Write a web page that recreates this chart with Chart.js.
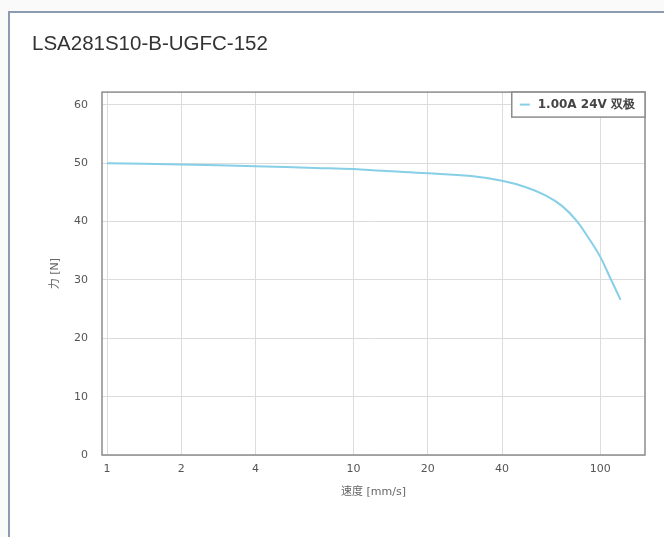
<!DOCTYPE html>
<html><head><meta charset="utf-8">
<script src="https://cdn.jsdelivr.net/npm/chart.js@4/dist/chart.umd.min.js"></script>
<style>
html,body{margin:0;padding:0;background:#fafafa;}
#wrap{position:relative;width:664px;height:537px;overflow:hidden;}
#card{position:absolute;left:8px;top:11px;width:700px;height:600px;background:#fff;border-left:2px solid #8c9bb0;border-top:2px solid #8c9bb0;}
canvas{position:absolute;left:0;top:0;}
</style></head><body>
<div id="wrap"><div id="card"></div><canvas id="c" width="664" height="537"></canvas></div>
<script>
const chartTitle = 'LSA281S10-B-UGFC-152';
const seriesLabel = '1.00A 24V 双极';
const xTitle = '速度 [mm/s]';
const yTitle = '力 [N]';
const speeds = [1, 2, 4, 7, 10, 13, 20, 30, 40, 50, 60, 70, 80, 90, 100, 110, 121];
const forces = [50.0, 49.8, 49.5, 49.2, 49.0, 48.7, 48.3, 47.8, 47.0, 45.9, 44.5, 42.7, 40.2, 37.1, 34.0, 30.3, 26.6];
const xTicks = [1, 2, 4, 10, 20, 40, 100];
const yTicks = [0, 10, 20, 30, 40, 50, 60];

const lineColor = '#86cfe6';
const frameColor = '#8c8c8c';

const framePlugin = {
  id: 'frameAndLegend',
  afterDraw(chart) {
    const {ctx, chartArea: a} = chart;
    ctx.save();
    ctx.strokeStyle = frameColor;
    ctx.lineWidth = 1.5;
    ctx.strokeRect(a.left, a.top, a.right - a.left, a.bottom - a.top);
    const ds = chart.data.datasets[0];
    ctx.font = 'bold 12px "DejaVu Sans"';
    const tw = ctx.measureText(ds.label).width;
    const padL = 8, sample = 10, gap = 8, padR = 10, h = 25;
    const w = padL + sample + gap + tw + padR;
    const x0 = a.right - w, y0 = a.top;
    ctx.fillStyle = '#fff';
    ctx.fillRect(x0, y0, w, h);
    ctx.strokeRect(x0, y0, w, h);
    ctx.strokeStyle = ds.borderColor;
    ctx.lineWidth = 2;
    ctx.beginPath();
    ctx.moveTo(x0 + padL, y0 + h / 2);
    ctx.lineTo(x0 + padL + sample, y0 + h / 2);
    ctx.stroke();
    ctx.fillStyle = '#444';
    ctx.textBaseline = 'middle';
    ctx.textAlign = 'left';
    ctx.fillText(ds.label, x0 + padL + sample + gap, y0 + h / 2 + 0.5);
    ctx.restore();
  }
};

new Chart(document.getElementById('c'), {
  type: 'line',
  data: {
    datasets: [{
      label: seriesLabel,
      data: speeds.map((s, i) => ({x: s, y: forces[i]})),
      borderColor: lineColor,
      backgroundColor: lineColor,
      borderWidth: 2,
      pointRadius: 0,
      tension: 0.4,
      fill: false
    }]
  },
  options: {
    responsive: false,
    animation: false,
    layout: {padding: {left: 32, right: 19, top: 0, bottom: 0}},
    plugins: {
      legend: {display: false},
      tooltip: {enabled: false},
      title: {
        display: true,
        text: chartTitle,
        align: 'start',
        color: '#333',
        font: {family: '"Liberation Sans", Arial, sans-serif', size: 20.5, weight: 'normal', lineHeight: 1.2},
        padding: {top: 32.5, bottom: 35},
      }
    },
    scales: {
      x: {
        type: 'logarithmic',
        min: 0.954,
        max: 152,
        afterBuildTicks(scale) { scale.ticks = xTicks.map(v => ({value: v})); },
        afterFit(scale) { scale.height = 82; },
        ticks: {
          callback: v => String(v),
          color: '#555',
          font: {family: '"DejaVu Sans"', size: 11},
          padding: 8,
          autoSkip: false,
          maxRotation: 0
        },
        grid: {color: '#dcdcdc', lineWidth: 1, drawTicks: false},
        border: {display: false},
        title: {
          display: true,
          text: xTitle,
          color: '#666',
          font: {family: '"DejaVu Sans", "Noto Sans CJK SC"', size: 11},
          padding: {top: 4, bottom: 38.4}
        }
      },
      y: {
        type: 'linear',
        min: 0,
        max: 62.2,
        afterBuildTicks(scale) { scale.ticks = yTicks.map(v => ({value: v})); },
        afterFit(scale) { scale.width = 70; },
        ticks: {
          color: '#555',
          font: {family: '"DejaVu Sans"', size: 11},
          padding: 14
        },
        grid: {color: '#dcdcdc', lineWidth: 1, drawTicks: false},
        border: {display: false},
        title: {
          display: true,
          text: yTitle,
          color: '#666',
          font: {family: '"DejaVu Sans", "Noto Sans CJK SC"', size: 11},
          padding: {top: 17, bottom: 4}
        }
      }
    }
  },
  plugins: [framePlugin]
});
</script>
</body></html>
